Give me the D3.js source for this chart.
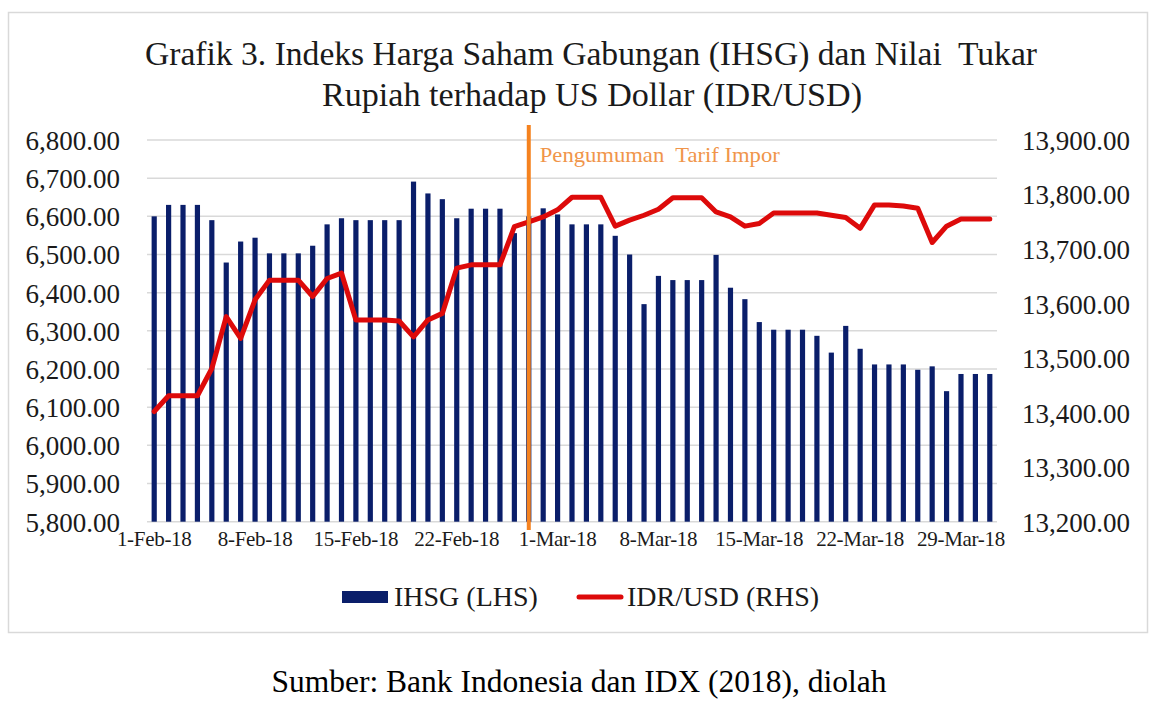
<!DOCTYPE html>
<html>
<head>
<meta charset="utf-8">
<script src="https://cdn.jsdelivr.net/npm/d3@7"></script>
<style>
  html, body { margin: 0; padding: 0; background: #fff; }
  svg { display: block; }
  text { font-family: "Liberation Serif", "Times New Roman", serif; }
</style>
</head>
<body>
<svg id="chart" width="1160" height="711"></svg>
<script>
// ---------------- DATA ----------------
const dates = [
  "1-Feb-18","2-Feb-18","3-Feb-18","4-Feb-18","5-Feb-18","6-Feb-18","7-Feb-18","8-Feb-18","9-Feb-18","10-Feb-18",
  "11-Feb-18","12-Feb-18","13-Feb-18","14-Feb-18","15-Feb-18","16-Feb-18","17-Feb-18","18-Feb-18","19-Feb-18","20-Feb-18",
  "21-Feb-18","22-Feb-18","23-Feb-18","24-Feb-18","25-Feb-18","26-Feb-18","27-Feb-18","28-Feb-18","1-Mar-18","2-Mar-18",
  "3-Mar-18","4-Mar-18","5-Mar-18","6-Mar-18","7-Mar-18","8-Mar-18","9-Mar-18","10-Mar-18","11-Mar-18","12-Mar-18",
  "13-Mar-18","14-Mar-18","15-Mar-18","16-Mar-18","17-Mar-18","18-Mar-18","19-Mar-18","20-Mar-18","21-Mar-18","22-Mar-18",
  "23-Mar-18","24-Mar-18","25-Mar-18","26-Mar-18","27-Mar-18","28-Mar-18","29-Mar-18","30-Mar-18","31-Mar-18"
];
const ihsg = [
  6600, 6630, 6630, 6630, 6590, 6479, 6534, 6544, 6503, 6503,
  6503, 6523, 6579, 6595, 6590, 6590, 6590, 6590, 6691, 6660,
  6645, 6595, 6620, 6620, 6620, 6556, 6600, 6621, 6605, 6579,
  6579, 6579, 6549, 6500, 6370, 6444, 6433, 6433, 6433, 6499,
  6413, 6383, 6323, 6303, 6303, 6303, 6287, 6243, 6313, 6253,
  6212, 6212, 6212, 6198, 6207, 6142, 6187, 6187, 6187
];
const idrusd = [
  13402, 13431, 13431, 13431, 13481, 13576, 13536, 13607, 13643, 13643,
  13643, 13613, 13646, 13656, 13570, 13570, 13570, 13568, 13539, 13570,
  13582, 13665, 13671, 13671, 13671, 13741, 13750, 13759, 13772, 13795,
  13795, 13795, 13742, 13753, 13762, 13773, 13794, 13794, 13794, 13768,
  13759, 13742, 13747, 13766, 13766, 13766, 13766, 13762, 13758, 13738,
  13781, 13781, 13779, 13775, 13712, 13742, 13755, 13755, 13755
];
const xTickLabels = ["1-Feb-18","8-Feb-18","15-Feb-18","22-Feb-18","1-Mar-18","8-Mar-18","15-Mar-18","22-Mar-18","29-Mar-18"];
const leftTicks = [5800, 5900, 6000, 6100, 6200, 6300, 6400, 6500, 6600, 6700, 6800];
const rightTicks = [13200, 13300, 13400, 13500, 13600, 13700, 13800, 13900];
const eventDate = "27-Feb-18";
const eventLabel = "Pengumuman  Tarif Impor";
const titleLines = ["Grafik 3. Indeks Harga Saham Gabungan (IHSG) dan Nilai  Tukar", "Rupiah terhadap US Dollar (IDR/USD)"];
const seriesNames = ["IHSG (LHS)", "IDR/USD (RHS)"];
const sourceText = "Sumber: Bank Indonesia dan IDX (2018), diolah";

// ---------------- LAYOUT ----------------
const svg = d3.select("#chart");
const plot = { left: 147, right: 997, top: 140, bottom: 521.7 };
const colBar = "#0a1e6a", colLine = "#dd0a0a", colEvent = "#f5821f", colEventText = "#f0954a";
const grid = "#d9d9d9";
const fmt = d3.format(",.2f");

// frame
svg.append("rect").attr("x", 8.5).attr("y", 12.5).attr("width", 1139).attr("height", 620)
  .attr("fill", "#fff").attr("stroke", "#d9d9d9").attr("stroke-width", 1.5);

// scales
const x = d3.scaleBand().domain(dates).range([plot.left, plot.right]).paddingInner(0.64).paddingOuter(0.32);
const yL = d3.scaleLinear().domain([5800, 6800]).range([plot.bottom, plot.top]);
const yR = d3.scaleLinear().domain([13200, 13900]).range([plot.bottom, plot.top]);
const cx = d => x(d) + x.bandwidth() / 2;

// gridlines
svg.append("g").selectAll("line").data(leftTicks).join("line")
  .attr("x1", plot.left).attr("x2", plot.right)
  .attr("y1", d => yL(d)).attr("y2", d => yL(d))
  .attr("stroke", grid).attr("stroke-width", 1.5);

// left axis
const gL = svg.append("g").attr("transform", `translate(${plot.left - 25},0)`)
  .call(d3.axisLeft(yL).tickValues(leftTicks).tickFormat(fmt).tickSize(0).tickPadding(2));
gL.select(".domain").remove();
gL.selectAll("text").attr("font-size", 27).attr("fill", "#1a1a1a")
  .attr("font-family", "Liberation Serif, serif").attr("dy", "0.35em");

// right axis
const gR = svg.append("g").attr("transform", `translate(1022,0)`)
  .call(d3.axisRight(yR).tickValues(rightTicks).tickFormat(fmt).tickSize(0).tickPadding(0));
gR.select(".domain").remove();
gR.selectAll("text").attr("font-size", 27).attr("fill", "#1a1a1a")
  .attr("font-family", "Liberation Serif, serif").attr("dy", "0.35em");

// bars
svg.append("g").selectAll("rect").data(dates).join("rect")
  .attr("x", d => x(d))
  .attr("width", x.bandwidth())
  .attr("y", (d, i) => yL(ihsg[i]))
  .attr("height", (d, i) => yL(5800) - yL(ihsg[i]))
  .attr("fill", colBar);

// x axis
const gX = svg.append("g").attr("transform", `translate(0,${plot.bottom})`)
  .call(d3.axisBottom(x).tickValues(xTickLabels).tickSize(0).tickPadding(9));
gX.select(".domain").remove();
gX.selectAll("text").attr("font-size", 21).attr("fill", "#1a1a1a")
  .attr("font-family", "Liberation Serif, serif").attr("letter-spacing", "-0.3px");

// line
const line = d3.line().x((d, i) => cx(dates[i])).y(d => yR(d));
svg.append("path").datum(idrusd).attr("d", line)
  .attr("fill", "none").attr("stroke", colLine).attr("stroke-width", 5)
  .attr("stroke-linejoin", "round").attr("stroke-linecap", "round");

// event line
const ex = cx(eventDate);
svg.append("line").attr("x1", ex).attr("x2", ex).attr("y1", 125).attr("y2", 530)
  .attr("stroke", colEvent).attr("stroke-width", 4);
svg.append("text").attr("x", ex + 11).attr("y", 162).text(eventLabel)
  .style("white-space", "pre")
  .attr("font-size", 21).attr("fill", colEventText)
  .attr("textLength", 240).attr("lengthAdjust", "spacingAndGlyphs");

// title
svg.append("text").attr("x", 591).attr("y", 65).attr("text-anchor", "middle")
  .attr("font-size", 33).attr("fill", "#1a1a1a").style("white-space", "pre")
  .attr("textLength", 892).attr("lengthAdjust", "spacingAndGlyphs").text(titleLines[0]);
svg.append("text").attr("x", 592).attr("y", 106).attr("text-anchor", "middle")
  .attr("font-size", 33).attr("fill", "#1a1a1a")
  .attr("textLength", 540).attr("lengthAdjust", "spacingAndGlyphs").text(titleLines[1]);

// legend
const lg = svg.append("g");
lg.append("rect").attr("x", 342).attr("y", 591).attr("width", 46).attr("height", 12).attr("fill", colBar);
lg.append("text").attr("x", 394).attr("y", 606).attr("font-size", 28).attr("fill", "#1a1a1a").text(seriesNames[0]);
lg.append("line").attr("x1", 579).attr("x2", 621).attr("y1", 597).attr("y2", 597)
  .attr("stroke", colLine).attr("stroke-width", 5).attr("stroke-linecap", "round");
lg.append("text").attr("x", 627).attr("y", 606).attr("font-size", 28).attr("fill", "#1a1a1a").text(seriesNames[1]);

// source
svg.append("text").attr("x", 579).attr("y", 692).attr("text-anchor", "middle")
  .attr("font-size", 31.5).attr("fill", "#000").text(sourceText);
</script>
</body>
</html>
